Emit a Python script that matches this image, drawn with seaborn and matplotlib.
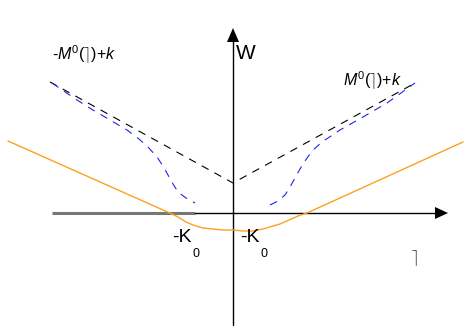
import matplotlib
matplotlib.use("Agg")
import matplotlib.pyplot as plt
import seaborn as sns

sns.set_theme(style="white")
plt.rcParams['font.family'] = ['Liberation Sans', 'DejaVu Sans']
plt.rcParams['text.color'] = 'black'
plt.rcParams['mathtext.fontset'] = 'custom'
plt.rcParams['mathtext.rm'] = 'Liberation Sans'
plt.rcParams['mathtext.it'] = 'Liberation Sans:italic'

# Coordinates: x to the right of the W axis, y above the horizontal axis (pixel units)
black_x = [-183, 0, 184]
black_y = [131, 30, 131]

blue_left_x = [-181, -156, -140, -123, -106, -94, -85, -76, -70, -65, -60, -55, -47, -38]
blue_left_y = [130, 113, 103, 93, 83, 74, 66, 56, 47, 38, 29, 21, 15, 10]
blue_right_x = [37, 45, 52, 57, 62, 67, 72, 79, 89, 107, 130, 154, 182]
blue_right_y = [8, 12, 18, 26, 35, 44, 52, 62, 71, 83, 96, 110, 130]

orange_x = [-225, -70, -63, -55, -47, -40, -30, -20, -10, 0, 10, 20, 30, 40, 47, 56, 65, 74, 230]
orange_y = [72, 3, 0, -4, -9, -12, -15, -16, -17, -17, -18, -18, -16, -13, -11, -7, -3, 0, 71]

fig = plt.figure(figsize=(4.77, 3.34), dpi=100)
ax = fig.add_axes([0, 0, 1, 1])
ax.set_xlim(-233, 244)
ax.set_ylim(-121, 213)
ax.axis('off')

# axes
ax.plot([-181, -38], [0, 0], color='#777777', lw=2.2, solid_capstyle='butt')
ax.plot([-38, 204], [0, 0], color='black', lw=1)
ax.fill([202, 215, 202], [6, 0, -6], color='black', lw=0)
ax.plot([0, 0], [-112, 172], color='black', lw=1)
ax.fill([-6, 0, 6], [171, 185, 171], color='black', lw=0)

sns.lineplot(x=black_x, y=black_y, sort=False, color='black', lw=0.8,
             linestyle=(0, (7, 6)), ax=ax)
sns.lineplot(x=blue_left_x, y=blue_left_y, sort=False, color='#2222ee', lw=0.8,
             linestyle=(0, (7, 6)), ax=ax)
sns.lineplot(x=blue_right_x, y=blue_right_y, sort=False, color='#2222ee', lw=0.8,
             linestyle=(0, (7, 6)), ax=ax)
sns.lineplot(x=orange_x, y=orange_y, sort=False, color='#ffa020', lw=1,
             ax=ax)

ax.text(3, 150, 'W', fontsize=15, ha='left', va='bottom')
ax.text(-181, 147, r'-$M^0$($\rceil$)+$k$', fontsize=11.5, ha='left', va='bottom')
ax.text(110, 121, r'$M^0$($\rceil$)+$k$', fontsize=11.5, ha='left', va='bottom')
ax.text(-61, -25, '-K', fontsize=14, ha='left', va='center')
ax.text(-40, -41, '0', fontsize=9, ha='left', va='center')
ax.text(7, -25, '-K', fontsize=14, ha='left', va='center')
ax.text(28, -41, '0', fontsize=9, ha='left', va='center')
ax.text(178, -45, r'$\rceil$', fontsize=12, ha='left', va='center')

fig.savefig('out.png', dpi=100)
